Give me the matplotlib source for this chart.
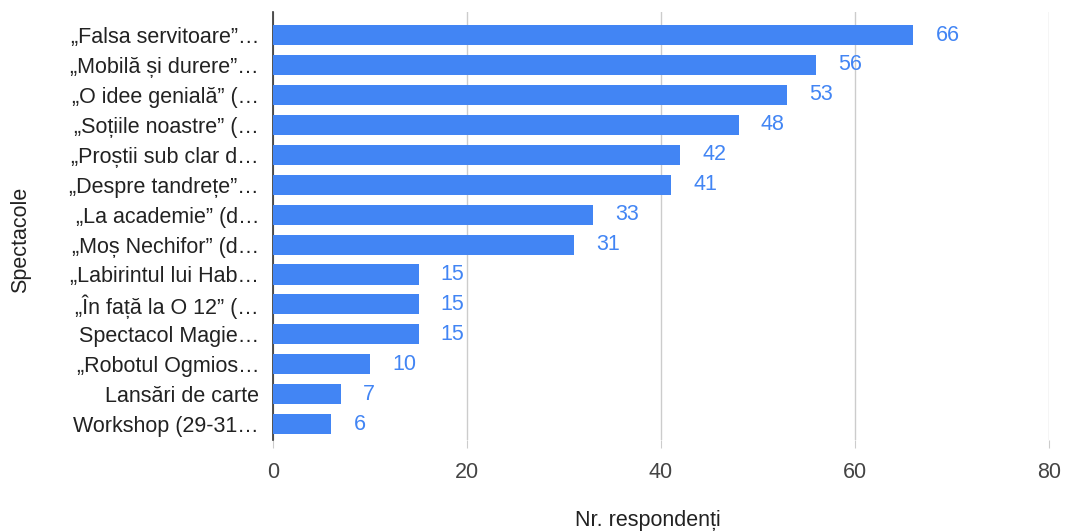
import matplotlib
matplotlib.use("Agg")
import matplotlib.pyplot as plt
import numpy as np

plt.rcParams['font.family'] = ['Liberation Sans', 'DejaVu Sans']

# date din grafic
spectacole = ["„Falsa servitoare”…", "„Mobilă și durere”…", "„O idee genială” (…",
              "„Soțiile noastre” (…", "„Proștii sub clar d…", "„Despre tandrețe”…",
              "„La academie” (d…", "„Moș Nechifor” (d…", "„Labirintul lui Hab…",
              "„În față la O 12” (…", "Spectacol Magie…", "„Robotul Ogmios…",
              "Lansări de carte", "Workshop (29-31…"]
respondenti = [66, 56, 53, 48, 42, 41, 33, 31, 15, 15, 15, 10, 7, 6]
xticks = [0, 20, 40, 60, 80]

albastru = "#4285F4"
fs = 15.5

fig = plt.figure(figsize=(10.65, 5.31), dpi=100)
ax = fig.add_axes([273/1065, 91/531, 776/1065, 428/531])

y = np.arange(len(spectacole))
ax.barh(y, respondenti, height=0.67, color=albastru, zorder=3)

for i in range(len(respondenti)):
    ax.text(respondenti[i] + 2.3, y[i], str(respondenti[i]), color=albastru,
            fontsize=fs, va="center", ha="left")

ax.set_xlim(0, 80)
ax.set_ylim(13.53, -0.77)
ax.set_yticks(y)
ax.set_yticklabels(spectacole, fontsize=fs, color="#222222")
ax.set_xticks(xticks)
ax.set_xticklabels([str(t) for t in xticks], fontsize=fs, color="#444444")

ax.grid(axis="x", color="#cccccc", linewidth=1, zorder=0)
for s in ["top", "right", "bottom"]:
    ax.spines[s].set_visible(False)
ax.spines["left"].set_color("#333333")
ax.spines["left"].set_linewidth(1.2)
ax.tick_params(axis="y", length=0, pad=10)
ax.tick_params(axis="x", length=6, color="#cccccc", pad=10)

ax.set_ylabel("Spectacole", fontsize=fs, color="#222222")
ax.yaxis.set_label_coords(-0.312, 0.467)
ax.set_xlabel("Nr. respondenți", fontsize=fs, color="#222222")
ax.xaxis.set_label_coords(0.483, -0.163)

fig.savefig("out.png", dpi=100)
